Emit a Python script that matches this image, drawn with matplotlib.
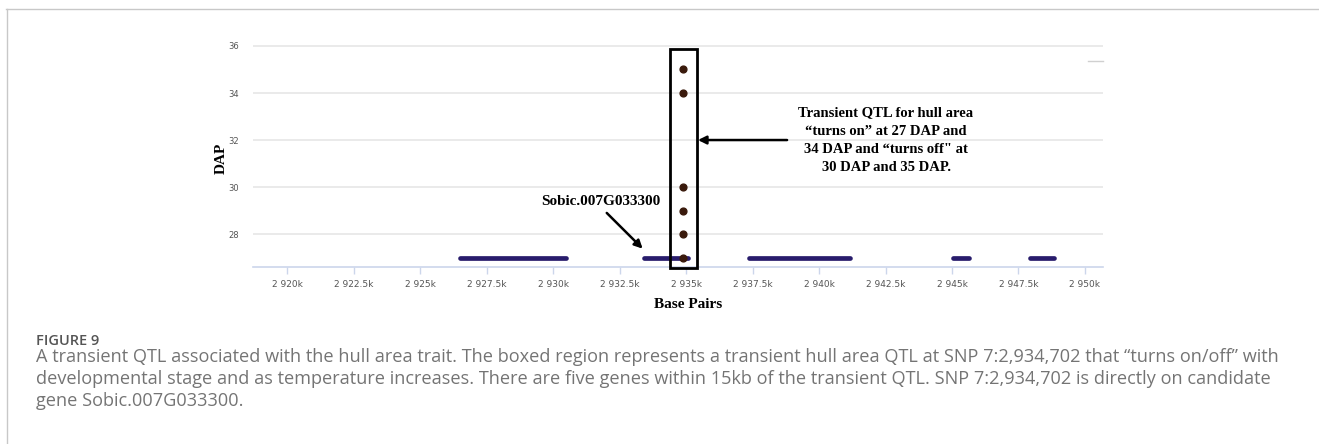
import matplotlib.pyplot as plt
from matplotlib.lines import Line2D
from matplotlib.patches import Rectangle

# gene models along chromosome 7 (kbp), all drawn at the 27 DAP row
gene_starts = [2926.50, 2933.42, 2937.37, 2945.04, 2947.93]
gene_ends = [2930.47, 2935.09, 2941.18, 2945.65, 2948.85]
gene_row = 27

# significant SNP hits for hull area
snp_pos = 2934.90
snp_dap = [35, 34, 30, 29, 28, 27]

x_ticks = [2920, 2922.5, 2925, 2927.5, 2930, 2932.5, 2935, 2937.5, 2940, 2942.5, 2945, 2947.5, 2950]
x_labels = ["2 920k", "2 922.5k", "2 925k", "2 927.5k", "2 930k", "2 932.5k", "2 935k",
            "2 937.5k", "2 940k", "2 942.5k", "2 945k", "2 947.5k", "2 950k"]
y_ticks = [28, 30, 32, 34, 36]

caption_head = "FIGURE 9"
caption_lines = [
    "A transient QTL associated with the hull area trait. The boxed region represents a transient hull area QTL at SNP 7:2,934,702 that \u201cturns on/off\u201d with",
    "developmental stage and as temperature increases. There are five genes within 15kb of the transient QTL. SNP 7:2,934,702 is directly on candidate",
    "gene Sobic.007G033300.",
]
qtl_note = ("Transient QTL for hull area\n\u201cturns on\u201d at 27 DAP and\n"
            "34 DAP and \u201cturns off\" at\n30 DAP and 35 DAP.")

serif = "Liberation Serif"

fig = plt.figure(figsize=(13.19, 4.44), dpi=100)
ax = fig.add_axes([0.1918, 0.3986, 0.6445, 0.5005])

for s, e in zip(gene_starts, gene_ends):
    ax.plot([s, e], [gene_row, gene_row], color="#281c6c", lw=3.4,
            solid_capstyle="round", zorder=3)

ax.scatter([snp_pos] * len(snp_dap), snp_dap, s=24, color="#3a1a0c", zorder=4)

# box around the transient hit
ax.add_patch(Rectangle((snp_pos - 0.52, 26.55), 1.05, 9.32, fill=False,
                       edgecolor="black", lw=2, zorder=5, clip_on=False))

ax.set_xlim(2918.72, 2950.68)
ax.set_ylim(26.6, 36.05)
ax.set_xticks(x_ticks, labels=x_labels)
ax.set_yticks(y_ticks)
ax.tick_params(axis="x", length=5, width=1, color="#ccd6eb", labelsize=6.5,
               labelcolor="#555555", pad=4)
ax.tick_params(axis="y", length=0, labelsize=6, labelcolor="#555555", pad=10)
ax.grid(axis="y", color="#e6e6e6", lw=1.2)
ax.set_axisbelow(True)
for side in ["top", "right", "left"]:
    ax.spines[side].set_visible(False)
ax.spines["bottom"].set_color("#ccd6eb")
ax.spines["bottom"].set_linewidth(1.2)

ax.text(2931.78, 29.38, "Sobic.007G033300", ha="center", va="center",
        fontsize=11, fontweight="bold", family=serif)
ax.annotate("", xy=(2933.37, 27.38), xytext=(2932.02, 28.9),
            arrowprops=dict(arrowstyle="-|>", color="black", lw=1.8,
                            mutation_scale=12, shrinkA=0, shrinkB=0))
ax.annotate("", xy=(2935.45, 32), xytext=(2938.8, 32),
            arrowprops=dict(arrowstyle="-|>", color="black", lw=1.8,
                            mutation_scale=12, shrinkA=0, shrinkB=0))
ax.text(2942.52, 32, qtl_note, ha="center", va="center", fontsize=10.5,
        fontweight="bold", family=serif, linespacing=1.5)

fig.text(221 / 1319, 1 - 158 / 444, "DAP", rotation=90, ha="center", va="center",
         fontsize=11, fontweight="bold", family=serif)
fig.text(688 / 1319, 1 - 305 / 444, "Base Pairs", ha="center", va="center",
         fontsize=11, fontweight="bold", family=serif)

# short grey dash in the top-right corner of the chart area
fig.add_artist(Line2D([1088 / 1319, 1103 / 1319], [1 - 61 / 444] * 2,
                      color="#d0d0d0", lw=1))

# page frame and caption
fig.add_artist(Line2D([6 / 1319, 1], [1 - 9 / 444] * 2, color="#c8c8c8", lw=1))
fig.add_artist(Line2D([7 / 1319] * 2, [0, 1 - 9 / 444], color="#c8c8c8", lw=1))
fig.text(36 / 1319, 1 - 341 / 444, caption_head, ha="left", va="center",
         fontsize=10.5, fontweight="semibold", family="Open Sans", color="#555555")
for i, line in enumerate(caption_lines):
    fig.text(36 / 1319, 1 - (357 + 22 * i) / 444, line, ha="left", va="center",
             fontsize=13.1, family="Open Sans", color="#747474")

plt.savefig("out.png", dpi=100)
